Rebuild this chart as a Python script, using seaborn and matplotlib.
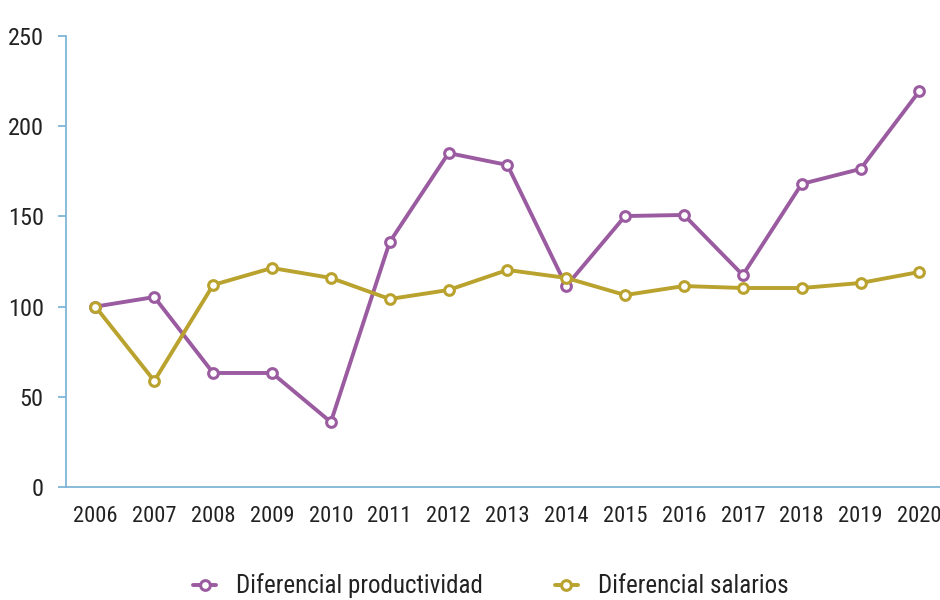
import matplotlib
matplotlib.use("Agg")
import matplotlib.pyplot as plt
from matplotlib import font_manager
import seaborn as sns
import pandas as pd

years = [str(y) for y in range(2006, 2021)]
productividad = [100, 105.3, 63.2, 63.2, 36, 135.8, 185.1, 178.5, 111.4, 150.2, 150.8, 117.5, 168, 176.3, 219.5]
salarios = [100, 58.8, 112, 121.4, 115.9, 104.2, 109.2, 120.3, 115.9, 106.4, 111.4, 110.3, 110.3, 113.1, 119.2]
series_names = ["Diferencial productividad", "Diferencial salarios"]
colors = ["#9a5ba0", "#b9a22e"]

sns.set_theme(style="white")
names = {f.name for f in font_manager.fontManager.ttflist}
family = "DejaVu Sans"
for cand in ["Roboto Condensed", "Liberation Sans Narrow", "Open Sans Condensed", "Noto Sans Condensed", "DejaVu Sans Condensed"]:
    if cand in names:
        family = cand
        break
plt.rcParams["font.family"] = [family, "DejaVu Sans"]

fig = plt.figure(figsize=(9.4, 6), dpi=100)
ax = fig.add_axes([66 / 940, 113 / 600, 874 / 940, 451 / 600])

for name, vals, col in zip(series_names, [productividad, salarios], colors):
    df = pd.DataFrame({"year": years, "value": vals})
    sns.lineplot(data=df, x="year", y="value", color=col, ax=ax, label=name,
                 linestyle="-", marker="o", markersize=7, markerfacecolor="white",
                 markeredgecolor=col, markeredgewidth=2.2, linewidth=2.8, sort=False)

ax.set_ylim(0, 250)
ax.set_xlim(-0.5, 14.35)
ax.set_yticks([0, 50, 100, 150, 200, 250])
ax.set_xlabel("")
ax.set_ylabel("")
for s in ["top", "right"]:
    ax.spines[s].set_visible(False)
for s in ["left", "bottom"]:
    ax.spines[s].set_color("#7fb6d8")
    ax.spines[s].set_linewidth(1.3)
ax.tick_params(axis="y", length=6, width=1.3, color="#7fb6d8", pad=10, labelsize=17.5, labelcolor="#222222", left=True)
ax.tick_params(axis="x", length=0, pad=14, labelsize=16.2, labelcolor="#222222")
ax.grid(False)

leg = ax.legend(loc="upper center", bbox_to_anchor=(0.486, -0.142), ncol=2, frameon=False,
                fontsize=18, handlelength=0.9, handletextpad=0.8, columnspacing=2.9, labelcolor="#222222")

fig.savefig("out.png", dpi=100)
